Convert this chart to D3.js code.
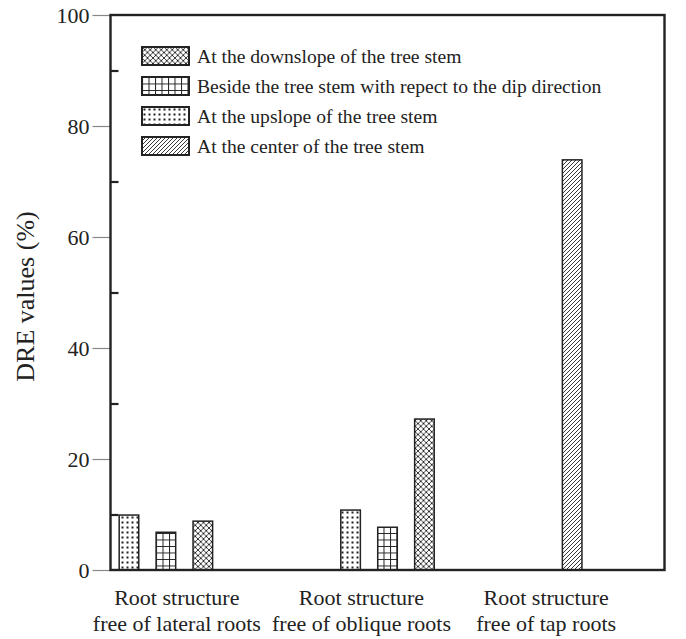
<!DOCTYPE html>
<html>
<head>
<meta charset="utf-8">
<script src="https://cdn.jsdelivr.net/npm/d3@7"></script>
<style>
  html, body { margin: 0; padding: 0; background: #fff; }
  svg { display: block; }
  text { font-family: 'Liberation Serif', 'Times New Roman', serif; fill: #222; }
</style>
</head>
<body>
<svg id="chart" width="686" height="639"></svg>
<script>
// Root structure categories (two-line labels)
const categories = [
  ["Root structure", "free of lateral roots"],
  ["Root structure", "free of oblique roots"],
  ["Root structure", "free of tap roots"]
];

// DRE values (%) per sampling position; null = not measured
const upslope   = [9.9, 10.8, null];
const beside    = [6.8, 7.7, null];
const downslope = [8.8, 27.2, null];
const center    = [null, null, 73.9];

const seriesNames = {
  downslope: "At the downslope of the tree stem",
  beside: "Beside the tree stem with repect to the dip direction",
  upslope: "At the upslope of the tree stem",
  center: "At the center of the tree stem"
};

// Order of bars inside each group, and legend order
const barOrder = ["upslope", "beside", "downslope", "center"];
const legendOrder = ["downslope", "beside", "upslope", "center"];

const yTicks = [0, 20, 40, 60, 80, 100];
const yMinorTicks = [10, 30, 50, 70, 90];

// first slot used by each group's bars (15 slots across the axis)
const groupStart = [0, 6, 12];
const slotCount = 15;

const values = { upslope, beside, downslope, center };

const svg = d3.select("#chart");
const mLeft = 110.5, mRight = 664.5, mTop = 15, mBottom = 570;
const ink = "#222";

// ---- patterns ----
const defs = svg.append("defs");
function pat(id, w, h, build) {
  const p = defs.append("pattern").attr("id", id)
    .attr("patternUnits", "userSpaceOnUse").attr("width", w).attr("height", h);
  p.append("rect").attr("width", w).attr("height", h).attr("fill", "#fff");
  build(p);
}
pat("p-downslope", 5.5, 5.5, p => {
  p.append("path").attr("d", "M0,0L5.5,5.5M5.5,0L0,5.5M-1,4.5L1,6.5M4.5,-1L6.5,1M-1,1L1,-1M4.5,6.5L6.5,4.5")
    .attr("stroke", ink).attr("stroke-width", 0.9);
});
pat("p-beside", 6.5, 6.5, p => {
  p.append("path").attr("d", "M0,0.5H6.5M0.5,0V6.5")
    .attr("stroke", ink).attr("stroke-width", 1);
});
pat("p-upslope", 5, 5, p => {
  p.append("rect").attr("x", 1.5).attr("y", 1.5).attr("width", 2).attr("height", 2).attr("fill", ink);
});
pat("p-center", 4, 4, p => {
  p.append("path").attr("d", "M-1,1L1,-1M0,4L4,0M3,5L5,3")
    .attr("stroke", ink).attr("stroke-width", 0.9);
});

// ---- scales ----
const y = d3.scaleLinear().domain([0, 100]).range([mBottom, mTop]);
const slot = d3.scaleLinear().domain([0, slotCount]).range([mLeft, mRight]);
const cat = d3.scaleBand().domain(d3.range(categories.length)).range([mLeft, mRight]);
const barW = (slot(1) - slot(0)) * 0.53;

// ---- bars ----
const bars = [];
categories.forEach((c, ci) => {
  let k = 0;
  barOrder.forEach(key => {
    const v = values[key][ci];
    if (v == null) return;
    bars.push({ key, value: v, slot: groupStart[ci] + k });
    k++;
  });
});

svg.append("g").selectAll("rect").data(bars).join("rect")
  .attr("x", d => slot(d.slot + 0.5) - barW / 2)
  .attr("y", d => y(d.value))
  .attr("width", barW)
  .attr("height", d => y(0) - y(d.value))
  .attr("fill", d => `url(#p-${d.key})`)
  .attr("stroke", ink).attr("stroke-width", 1.5);

// ---- axes ----
const yAxis = svg.append("g").attr("transform", `translate(${mLeft},0)`)
  .call(d3.axisLeft(y).tickValues(yTicks).tickSize(18).tickPadding(3));
yAxis.select(".domain").remove();
yAxis.selectAll(".tick line").attr("stroke", "#888").attr("stroke-width", 1.2);
yAxis.selectAll(".tick text").attr("font-size", 22).attr("fill", ink)
  .attr("font-family", "'Liberation Serif', serif");

const yMinor = svg.append("g").attr("transform", `translate(${mLeft},0)`)
  .call(d3.axisRight(y).tickValues(yMinorTicks).tickSize(8).tickFormat(""));
yMinor.select(".domain").remove();
yMinor.selectAll(".tick line").attr("stroke", ink).attr("stroke-width", 2.2);

// frame
svg.append("rect").attr("x", mLeft).attr("y", mTop)
  .attr("width", mRight - mLeft).attr("height", mBottom - mTop)
  .attr("fill", "none").attr("stroke", ink).attr("stroke-width", 2.4);

// y title
svg.append("text")
  .attr("transform", `translate(34,${(mTop + mBottom) / 2 + 4}) rotate(-90)`)
  .attr("text-anchor", "middle").attr("font-size", 26)
  .text("DRE values (%)");

// category labels
const xl = svg.append("g").selectAll("text").data(categories).join("text")
  .attr("text-anchor", "middle").attr("font-size", 22)
  .attr("x", (d, i) => cat(i) + cat.bandwidth() / 2 - 26)
  .attr("y", 605);
xl.selectAll("tspan").data(d => d).join("tspan")
  .attr("x", function () { return d3.select(this.parentNode).attr("x"); })
  .attr("dy", (d, i) => i === 0 ? 0 : 26)
  .text(d => d);

// ---- legend ----
const lg = svg.append("g").attr("transform", "translate(142,47)");
const row = lg.selectAll("g").data(legendOrder).join("g")
  .attr("transform", (d, i) => `translate(0,${i * 30})`);
row.append("rect").attr("width", 47).attr("height", 18)
  .attr("fill", d => `url(#p-${d})`).attr("stroke", ink).attr("stroke-width", 2);
row.append("text").attr("x", 55).attr("y", 9).attr("dy", "0.35em")
  .attr("font-size", 19.6).text(d => seriesNames[d]);
</script>
</body>
</html>
